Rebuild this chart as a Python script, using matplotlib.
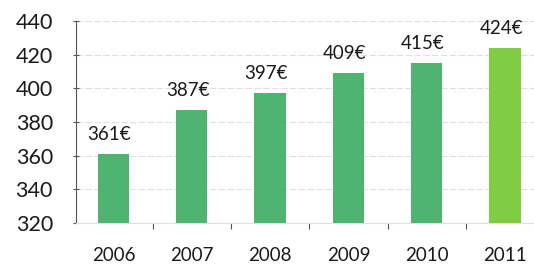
import numpy as np
import matplotlib
matplotlib.use("Agg")
import matplotlib.pyplot as plt

# data
years = ["2006", "2007", "2008", "2009", "2010", "2011"]
values = [361, 387, 397, 409, 415, 424]
labels = ["361€", "387€", "397€", "409€", "415€", "424€"]
colors = ["#4fb46f"] * 5 + ["#80cc42"]

yticks = [320, 340, 360, 380, 400, 420, 440]

plt.rcParams["font.family"] = ["Lato", "DejaVu Sans"]


def plot_chart():
    fig = plt.figure(figsize=(5.34, 2.73), dpi=100)
    ax = fig.add_axes([0.142, 0.183, 0.858, 0.740])

    x = np.arange(len(years))
    ax.bar(x, [v - 320 for v in values], bottom=320, width=0.4,
           color=colors, zorder=3)

    for xi, v, lab in zip(x, values, labels):
        ax.annotate(lab, (xi - 0.05, v), xytext=(0, 8), textcoords="offset points",
                    ha="center", va="bottom", fontsize=13.5, color="#1a1a1a")

    ax.set_ylim(320, 440)
    ax.set_xlim(-0.48, 5.37)
    ax.set_yticks(yticks)
    ax.set_yticklabels([str(t) for t in yticks], fontsize=15.5, color="#1a1a1a")
    ax.grid(axis="y", color="#e0e0e0", linewidth=0.8, linestyle=(0, (6, 2)), zorder=0)

    # x ticks between categories, labels at category centres
    ax.set_xticks(x[:-1] + 0.5)
    ax.set_xticklabels([])
    ax.set_xticks(x, minor=True)
    ax.set_xticklabels(years, minor=True, fontsize=13.5, color="#1a1a1a")
    ax.tick_params(axis="x", which="minor", length=0, pad=17)
    ax.tick_params(axis="x", which="major", length=4, direction="out", color="#555555")
    ax.tick_params(axis="y", length=5, direction="inout", color="#555555", pad=14)

    for s in ["top", "right"]:
        ax.spines[s].set_visible(False)
    ax.spines["left"].set_color("#555555")
    ax.spines["bottom"].set_color("#e0e0e0")
    ax.spines["left"].set_linewidth(0.8)

    fig.savefig("out.png", dpi=100)


if __name__ == "__main__":
    plot_chart()
